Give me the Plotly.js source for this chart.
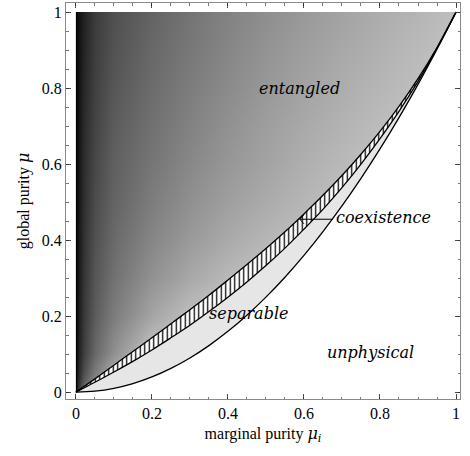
<!DOCTYPE html>
<html>
<head>
<meta charset="utf-8">
<script src="https://cdn.plot.ly/plotly-3.0.1.min.js"></script>
<style>html,body{margin:0;padding:0;background:#fff;}#chart{width:470px;height:456px;}</style>
</head>
<body>
<div id="chart"></div>
<script>
// marginal purity samples along the boundary curves
const muI = [0, 0.05, 0.1, 0.15, 0.2, 0.25, 0.3, 0.35, 0.4, 0.45, 0.5, 0.55, 0.6, 0.65, 0.7, 0.75, 0.8, 0.85, 0.9, 0.95, 1];
// upper edge of coexistence band (entangled above)
const entBound = [0, 0.035, 0.071, 0.107, 0.143, 0.180, 0.217, 0.255, 0.295, 0.336, 0.378, 0.422, 0.469, 0.518, 0.570, 0.626, 0.686, 0.752, 0.825, 0.907, 1];
// lower edge of coexistence band (separable below)
const sepBound = [0, 0.026, 0.053, 0.081, 0.111, 0.143, 0.176, 0.212, 0.250, 0.290, 0.333, 0.379, 0.429, 0.481, 0.538, 0.600, 0.667, 0.739, 0.818, 0.905, 1];
// physical boundary (unphysical below)
const physBound = [0, 0.0025, 0.010, 0.0225, 0.040, 0.0625, 0.090, 0.1225, 0.160, 0.2025, 0.250, 0.3025, 0.360, 0.4225, 0.490, 0.5625, 0.640, 0.7225, 0.810, 0.9025, 1];

// shading of the entangled region (grey level 0-255) read at grid points
const shadeX = [0, 0.005, 0.02, 0.05, 0.1, 0.2, 0.3, 0.4, 0.5, 0.6, 0.7, 0.8, 0.9, 1.0];
const shadeY = [0, 0.05, 0.1, 0.2, 0.3, 0.4, 0.5, 0.6, 0.7, 0.8, 0.9, 1.0];
const shadeZ = [
  [0, 50, 110, 160, 200, 205, 205, 205, 205, 205, 205, 205, 205, 205],
  [0, 35, 80, 125, 175, 205, 205, 205, 205, 205, 205, 205, 205, 205],
  [0, 28, 65, 105, 145, 200, 205, 205, 205, 205, 205, 205, 205, 205],
  [0, 24, 58, 92, 125, 165, 192, 205, 205, 205, 205, 205, 205, 205],
  [0, 22, 54, 86, 114, 146, 168, 185, 197, 205, 205, 205, 205, 205],
  [0, 20, 51, 81, 106, 134, 154, 170, 182, 192, 200, 205, 205, 205],
  [0, 19, 48, 76, 100, 125, 144, 159, 171, 182, 192, 200, 205, 205],
  [0, 18, 46, 72, 96, 118, 136, 151, 163, 175, 185, 194, 200, 205],
  [0, 17, 43, 68, 92, 113, 130, 145, 158, 169, 179, 188, 196, 202],
  [0, 16, 40, 65, 87, 108, 125, 139, 152, 163, 173, 182, 190, 198],
  [0, 15, 37, 62, 83, 104, 120, 134, 147, 158, 168, 177, 186, 194],
  [0, 15, 35, 60, 80, 100, 116, 130, 142, 153, 163, 172, 181, 190]
];

const regionLabels = ['entangled', 'coexistence', 'separable', 'unphysical'];
const xTicks = [0, 0.2, 0.4, 0.6, 0.8, 1];
const yTicks = [0, 0.2, 0.4, 0.6, 0.8, 1];

const rev = a => a.slice().reverse();
const serif = 'Liberation Serif';
const serifIt = 'DejaVu Serif';

const traces = [];
traces.push({
  type: 'heatmap', x: shadeX, y: shadeY, z: shadeZ, zmin: 0, zmax: 255,
  zsmooth: 'best', showscale: false, hoverinfo: 'skip',
  colorscale: [[0, 'rgb(0,0,0)'], [1, 'rgb(255,255,255)']]
});
function mask(xs, ys, color) {
  traces.push({type: 'scatter', mode: 'lines', x: xs, y: ys, fill: 'toself',
    fillcolor: color, line: {width: 0, color: color}, hoverinfo: 'skip'});
}
// white masks outside the unit square
mask([-0.1, 1.1, 1.1, -0.1], [1, 1, 1.2, 1.2], 'white');
mask([-0.1, 0, 0, -0.1], [-0.1, -0.1, 1.2, 1.2], 'white');
mask([1, 1.1, 1.1, 1], [-0.1, -0.1, 1.2, 1.2], 'white');
// unphysical region
mask(muI.concat([1.1, 1.1, 0]), physBound.concat([1, -0.1, -0.1]), 'white');
// separable region
mask(muI.concat(rev(muI)), sepBound.concat(rev(physBound)), '#e6e6e6');
// coexistence band (hatched)
traces.push({type: 'scatter', mode: 'lines', x: muI.concat(rev(muI)), y: entBound.concat(rev(sepBound)),
  fill: 'toself', fillcolor: 'white', line: {width: 0},
  fillpattern: {shape: '|', bgcolor: 'white', fgcolor: 'black', size: 4.5, solidity: 0.28},
  hoverinfo: 'skip'});
// boundary curves
[entBound, sepBound, physBound].forEach(b => {
  traces.push({type: 'scatter', mode: 'lines', x: muI, y: b,
    line: {color: 'black', width: 1.3, shape: 'spline'}, hoverinfo: 'skip'});
});

const axisCommon = {
  showgrid: false, zeroline: false, showline: true, linecolor: '#8a8a8a', linewidth: 1,
  mirror: 'allticks', ticks: 'inside', ticklen: 5, tickcolor: '#222', tickwidth: 0.8,
  minor: {dtick: 0.05, ticks: 'inside', ticklen: 2.5, tickcolor: '#222', tickwidth: 0.6},
  tickfont: {family: serif, size: 16, color: '#000'}
};
const mu = '<span style="font-family:DejaVu Serif;font-style:italic">μ</span>';

const layout = {
  width: 470, height: 456,
  margin: {l: 66, r: 10, t: 3, b: 57},
  paper_bgcolor: 'white', plot_bgcolor: 'white',
  showlegend: false,
  font: {family: serif},
  xaxis: Object.assign({}, axisCommon, {
    range: [-0.026, 1.0105], tickvals: xTicks, ticktext: xTicks.map(String),
    title: {text: 'marginal purity ' + mu + '<sub><span style="font-family:DejaVu Serif;font-style:italic">i</span></sub>', font: {family: serif, size: 16, color: '#000'}, standoff: 6}
  }),
  yaxis: Object.assign({}, axisCommon, {
    range: [-0.018, 1.024], tickvals: yTicks, ticktext: yTicks.map(String),
    title: {text: 'global purity ' + mu, font: {family: serif, size: 16, color: '#000'}, standoff: 8}
  }),
  shapes: [
    {type: 'line', xref: 'x', yref: 'y', x0: 0.589, y0: 0.455, x1: 0.675, y1: 0.455, line: {color: '#000', width: 1}},
    {type: 'line', xref: 'x', yref: 'y', x0: 0.589, y0: 0.455, x1: 0.6, y1: 0.467, line: {color: '#000', width: 1}},
    {type: 'line', xref: 'x', yref: 'y', x0: 0.589, y0: 0.455, x1: 0.6, y1: 0.443, line: {color: '#000', width: 1}}
  ],
  annotations: [
    {x: 0.589, y: 0.8, text: '<i>' + regionLabels[0] + '</i>', showarrow: false, font: {family: serifIt, size: 16, color: '#000'}},
    {x: 0.68, y: 0.46, text: '<i>' + regionLabels[1] + '</i>', showarrow: false, xanchor: 'left', font: {family: serifIt, size: 16, color: '#000'}},
    {x: 0.453, y: 0.208, text: '<i>' + regionLabels[2] + '</i>', showarrow: false, font: {family: serifIt, size: 16, color: '#000'}},
    {x: 0.774, y: 0.105, text: '<i>' + regionLabels[3] + '</i>', showarrow: false, font: {family: serifIt, size: 16, color: '#000'}}
  ]
};

Plotly.newPlot('chart', traces, layout, {displayModeBar: false, staticPlot: true});
</script>
</body>
</html>
